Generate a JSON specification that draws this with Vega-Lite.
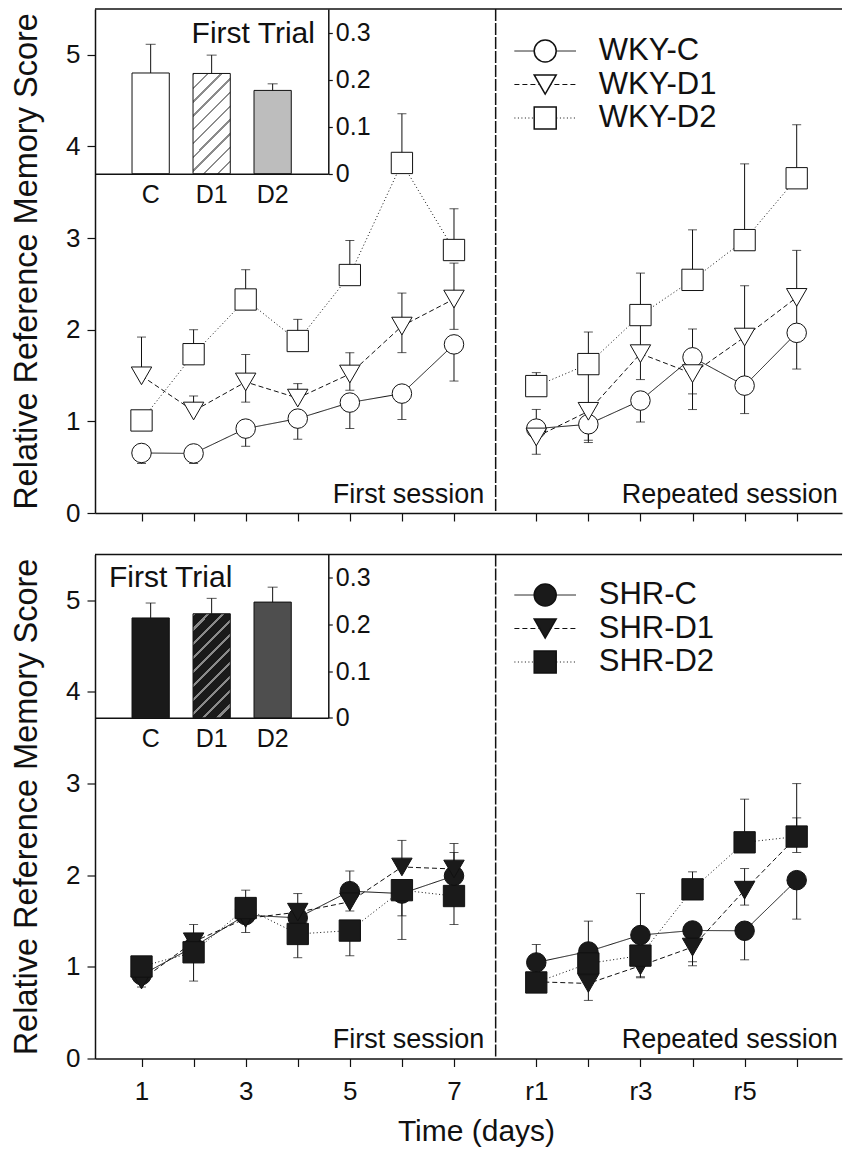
{
  "$schema": "https://vega.github.io/schema/vega-lite/v6.json",
  "background": "white",
  "padding": {"left": 10, "top": 8, "right": 0, "bottom": 0},
  "spacing": 27.5,
  "resolve": {"scale": {"shape": "independent", "size": "independent", "strokeDash": "independent"}, "legend": {"shape": "independent", "size": "independent", "strokeDash": "independent"}},
  "config": {
    "font": "Liberation Sans",
    "view": {"stroke": null},
    "axis": {"grid": false, "domainColor": "#111", "tickColor": "#111", "labelColor": "#111", "titleColor": "#111", "titleFontWeight": "normal", "labelFont": "Liberation Sans", "titleFont": "Liberation Sans", "domainWidth": 1.5, "tickWidth": 1.2},
    "legend": {"labelFont": "Liberation Sans"}
  },
  "datasets": {
    "wky": [
      {"s": "WKY-C", "sess": "a", "t": 1, "v": 0.655, "lo": 0.54, "hi": 0.655},
      {"s": "WKY-C", "sess": "a", "t": 2, "v": 0.65, "lo": 0.54, "hi": 0.65},
      {"s": "WKY-C", "sess": "a", "t": 3, "v": 0.921, "lo": 0.728, "hi": 0.921},
      {"s": "WKY-C", "sess": "a", "t": 4, "v": 1.03, "lo": 0.805, "hi": 1.03},
      {"s": "WKY-C", "sess": "a", "t": 5, "v": 1.205, "lo": 0.921, "hi": 1.205},
      {"s": "WKY-C", "sess": "a", "t": 6, "v": 1.303, "lo": 1.02, "hi": 1.303},
      {"s": "WKY-C", "sess": "a", "t": 7, "v": 1.84, "lo": 1.44, "hi": 1.84},
      {"s": "WKY-C", "sess": "b", "t": 8.58, "v": 0.921, "lo": 0.921, "hi": 1.13},
      {"s": "WKY-C", "sess": "b", "t": 9.58, "v": 0.968, "lo": 0.794, "hi": 0.968},
      {"s": "WKY-C", "sess": "b", "t": 10.58, "v": 1.227, "lo": 0.993, "hi": 1.227},
      {"s": "WKY-C", "sess": "b", "t": 11.58, "v": 1.699, "lo": 1.3, "hi": 2.008},
      {"s": "WKY-C", "sess": "b", "t": 12.58, "v": 1.39, "lo": 1.085, "hi": 1.39},
      {"s": "WKY-C", "sess": "b", "t": 13.58, "v": 1.966, "lo": 1.571, "hi": 1.966},
      {"s": "WKY-D1", "sess": "a", "t": 1, "v": 1.497, "lo": 1.497, "hi": 1.92},
      {"s": "WKY-D1", "sess": "a", "t": 2, "v": 1.113, "lo": 1.113, "hi": 1.277},
      {"s": "WKY-D1", "sess": "a", "t": 3, "v": 1.43, "lo": 1.21, "hi": 1.73},
      {"s": "WKY-D1", "sess": "a", "t": 4, "v": 1.254, "lo": 1.254, "hi": 1.412},
      {"s": "WKY-D1", "sess": "a", "t": 5, "v": 1.517, "lo": 1.34, "hi": 1.75},
      {"s": "WKY-D1", "sess": "a", "t": 6, "v": 2.04, "lo": 1.75, "hi": 2.4},
      {"s": "WKY-D1", "sess": "a", "t": 7, "v": 2.335, "lo": 2.004, "hi": 2.727},
      {"s": "WKY-D1", "sess": "b", "t": 8.58, "v": 0.83, "lo": 0.641, "hi": 0.83},
      {"s": "WKY-D1", "sess": "b", "t": 9.58, "v": 1.11, "lo": 0.769, "hi": 1.55},
      {"s": "WKY-D1", "sess": "b", "t": 10.58, "v": 1.739, "lo": 1.456, "hi": 2.1},
      {"s": "WKY-D1", "sess": "b", "t": 11.58, "v": 1.521, "lo": 1.129, "hi": 1.521},
      {"s": "WKY-D1", "sess": "b", "t": 12.58, "v": 1.92, "lo": 1.36, "hi": 2.48},
      {"s": "WKY-D1", "sess": "b", "t": 13.58, "v": 2.353, "lo": 2.0, "hi": 2.866},
      {"s": "WKY-D2", "sess": "a", "t": 1, "v": 1.01, "lo": 1.01, "hi": 1.01},
      {"s": "WKY-D2", "sess": "a", "t": 2, "v": 1.733, "lo": 1.733, "hi": 2.0},
      {"s": "WKY-D2", "sess": "a", "t": 3, "v": 2.33, "lo": 2.33, "hi": 2.655},
      {"s": "WKY-D2", "sess": "a", "t": 4, "v": 1.877, "lo": 1.877, "hi": 2.113},
      {"s": "WKY-D2", "sess": "a", "t": 5, "v": 2.597, "lo": 2.597, "hi": 2.975},
      {"s": "WKY-D2", "sess": "a", "t": 6, "v": 3.82, "lo": 3.82, "hi": 4.357},
      {"s": "WKY-D2", "sess": "a", "t": 7, "v": 2.87, "lo": 2.87, "hi": 3.32},
      {"s": "WKY-D2", "sess": "b", "t": 8.58, "v": 1.385, "lo": 1.385, "hi": 1.532},
      {"s": "WKY-D2", "sess": "b", "t": 9.58, "v": 1.625, "lo": 1.625, "hi": 1.975},
      {"s": "WKY-D2", "sess": "b", "t": 10.58, "v": 2.16, "lo": 2.16, "hi": 2.618},
      {"s": "WKY-D2", "sess": "b", "t": 11.58, "v": 2.544, "lo": 2.544, "hi": 3.09},
      {"s": "WKY-D2", "sess": "b", "t": 12.58, "v": 2.978, "lo": 2.978, "hi": 3.81},
      {"s": "WKY-D2", "sess": "b", "t": 13.58, "v": 3.653, "lo": 3.653, "hi": 4.237}
    ],
    "shr": [
      {"s": "SHR-C", "sess": "a", "t": 1, "v": 0.91, "lo": 0.91, "hi": 0.91},
      {"s": "SHR-C", "sess": "a", "t": 2, "v": 1.219, "lo": 1.219, "hi": 1.219},
      {"s": "SHR-C", "sess": "a", "t": 3, "v": 1.565, "lo": 1.375, "hi": 1.565},
      {"s": "SHR-C", "sess": "a", "t": 4, "v": 1.535, "lo": 1.535, "hi": 1.535},
      {"s": "SHR-C", "sess": "a", "t": 5, "v": 1.826, "lo": 1.826, "hi": 2.045},
      {"s": "SHR-C", "sess": "a", "t": 6, "v": 1.8, "lo": 1.557, "hi": 1.8},
      {"s": "SHR-C", "sess": "a", "t": 7, "v": 1.993, "lo": 1.993, "hi": 2.248},
      {"s": "SHR-C", "sess": "b", "t": 8.58, "v": 1.048, "lo": 1.048, "hi": 1.244},
      {"s": "SHR-C", "sess": "b", "t": 9.58, "v": 1.168, "lo": 1.168, "hi": 1.499},
      {"s": "SHR-C", "sess": "b", "t": 10.58, "v": 1.347, "lo": 1.347, "hi": 1.8},
      {"s": "SHR-C", "sess": "b", "t": 11.58, "v": 1.397, "lo": 1.056, "hi": 1.397},
      {"s": "SHR-C", "sess": "b", "t": 12.58, "v": 1.394, "lo": 1.077, "hi": 1.394},
      {"s": "SHR-C", "sess": "b", "t": 13.58, "v": 1.946, "lo": 1.521, "hi": 1.946},
      {"s": "SHR-D1", "sess": "a", "t": 1, "v": 0.856, "lo": 0.78, "hi": 0.856},
      {"s": "SHR-D1", "sess": "a", "t": 2, "v": 1.274, "lo": 1.274, "hi": 1.462},
      {"s": "SHR-D1", "sess": "a", "t": 3, "v": 1.528, "lo": 1.528, "hi": 1.528},
      {"s": "SHR-D1", "sess": "a", "t": 4, "v": 1.597, "lo": 1.597, "hi": 1.8},
      {"s": "SHR-D1", "sess": "a", "t": 5, "v": 1.71, "lo": 1.61, "hi": 1.71},
      {"s": "SHR-D1", "sess": "a", "t": 6, "v": 2.09, "lo": 2.09, "hi": 2.38},
      {"s": "SHR-D1", "sess": "a", "t": 7, "v": 2.068, "lo": 2.068, "hi": 2.346},
      {"s": "SHR-D1", "sess": "b", "t": 8.58, "v": 0.837, "lo": 0.837, "hi": 0.837},
      {"s": "SHR-D1", "sess": "b", "t": 9.58, "v": 0.819, "lo": 0.634, "hi": 0.819},
      {"s": "SHR-D1", "sess": "b", "t": 10.58, "v": 1.012, "lo": 0.881, "hi": 1.012},
      {"s": "SHR-D1", "sess": "b", "t": 11.58, "v": 1.216, "lo": 1.012, "hi": 1.216},
      {"s": "SHR-D1", "sess": "b", "t": 12.58, "v": 1.837, "lo": 1.674, "hi": 2.073},
      {"s": "SHR-D1", "sess": "b", "t": 13.58, "v": 2.419, "lo": 2.248, "hi": 2.626},
      {"s": "SHR-D2", "sess": "a", "t": 1, "v": 1.004, "lo": 1.004, "hi": 1.11},
      {"s": "SHR-D2", "sess": "a", "t": 2, "v": 1.159, "lo": 0.845, "hi": 1.159},
      {"s": "SHR-D2", "sess": "a", "t": 3, "v": 1.642, "lo": 1.642, "hi": 1.837},
      {"s": "SHR-D2", "sess": "a", "t": 4, "v": 1.359, "lo": 1.1, "hi": 1.359},
      {"s": "SHR-D2", "sess": "a", "t": 5, "v": 1.396, "lo": 1.121, "hi": 1.396},
      {"s": "SHR-D2", "sess": "a", "t": 6, "v": 1.837, "lo": 1.299, "hi": 1.837},
      {"s": "SHR-D2", "sess": "a", "t": 7, "v": 1.773, "lo": 1.462, "hi": 1.773},
      {"s": "SHR-D2", "sess": "b", "t": 8.58, "v": 0.83, "lo": 0.83, "hi": 0.83},
      {"s": "SHR-D2", "sess": "b", "t": 9.58, "v": 1.037, "lo": 1.037, "hi": 1.037},
      {"s": "SHR-D2", "sess": "b", "t": 10.58, "v": 1.123, "lo": 0.892, "hi": 1.123},
      {"s": "SHR-D2", "sess": "b", "t": 11.58, "v": 1.846, "lo": 1.846, "hi": 2.037},
      {"s": "SHR-D2", "sess": "b", "t": 12.58, "v": 2.359, "lo": 2.359, "hi": 2.83},
      {"s": "SHR-D2", "sess": "b", "t": 13.58, "v": 2.422, "lo": 2.422, "hi": 3.0}
    ],
    "wkyBars": [
      {"g": "C", "v": 0.214, "hi": 0.275},
      {"g": "D1", "v": 0.213, "hi": 0.252},
      {"g": "D2", "v": 0.177, "hi": 0.191}
    ],
    "shrBars": [
      {"g": "C", "v": 0.214, "hi": 0.246},
      {"g": "D1", "v": 0.223, "hi": 0.256},
      {"g": "D2", "v": 0.248, "hi": 0.28}
    ]
  },
  "vconcat": [
    {
      "width": 747,
      "height": 504,
      "resolve": {"scale": {"x": "independent", "y": "independent"}, "axis": {"x": "independent", "y": "independent"}},
      "layer": [
        {
          "layer": [
            {
              "data": {"name": "wky"},
              "mark": {"type": "line", "color": "#111", "strokeWidth": 1},
              "encoding": {
                "x": {"field": "t", "type": "quantitative", "scale": {"domain": [0.107, 14.45], "nice": false, "zero": false},
                  "axis": {"values": [1, 2, 3, 4, 5, 6, 7, 8.58, 9.58, 10.58, 11.58, 12.58, 13.58], "tickSize": 8, "labels": false, "title": null}},
                "y": {"field": "v", "type": "quantitative", "scale": {"domain": [0, 5.5], "nice": false},
                  "axis": {"values": [0, 1, 2, 3, 4, 5], "format": "d", "tickSize": 8, "labelPadding": 7, "labelFontSize": 26, "title": "Relative Reference Memory Score", "titleFontSize": 32.5, "titlePadding": 22}},
                "strokeDash": {"field": "s", "type": "nominal", "scale": {"range": [[1, 0], [5, 3], [1, 2.5]]},
                  "legend": {"orient": "none", "legendX": 434.7, "legendY": 26.5, "title": null, "symbolType": "M-2.8,0L2.8,0", "symbolSize": 484, "symbolStrokeWidth": 1, "symbolStrokeColor": "#111", "symbolFillColor": "transparent", "labelFontSize": 31, "labelOpacity": 0, "labelOffset": 38, "rowPadding": 1.5, "padding": 0}},
                "detail": {"field": "sess"}
              }
            },
            {
              "data": {"name": "wky"},
              "mark": {"type": "rule", "color": "#111", "strokeWidth": 1},
              "encoding": {
                "x": {"field": "t", "type": "quantitative"},
                "y": {"field": "lo", "type": "quantitative"},
                "y2": {"field": "hi"}
              }
            },
            {
              "data": {"name": "wky"},
              "transform": [{"filter": "datum.hi > datum.v"}],
              "mark": {"type": "tick", "orient": "horizontal", "size": 9, "thickness": 1, "color": "#111"},
              "encoding": {
                "x": {"field": "t", "type": "quantitative"},
                "y": {"field": "hi", "type": "quantitative"}
              }
            },
            {
              "data": {"name": "wky"},
              "transform": [{"filter": "datum.lo < datum.v"}],
              "mark": {"type": "tick", "orient": "horizontal", "size": 9, "thickness": 1, "color": "#111"},
              "encoding": {
                "x": {"field": "t", "type": "quantitative"},
                "y": {"field": "lo", "type": "quantitative"}
              }
            },
            {
              "data": {"name": "wky"},
              "mark": {"type": "point", "filled": true, "fill": "white", "stroke": "#111", "strokeWidth": 1, "opacity": 1, "fillOpacity": 1},
              "encoding": {
                "x": {"field": "t", "type": "quantitative"},
                "y": {"field": "v", "type": "quantitative"},
                "size": {"field": "s", "type": "nominal", "scale": {"range": [380, 454, 340]}, "legend": null},
                "shape": {"field": "s", "type": "nominal", "scale": {"domain": ["WKY-C", "WKY-D1", "WKY-D2"], "range": ["circle", "triangle-down", "square"]},
                  "legend": {"orient": "none", "legendX": 434.7, "legendY": 26.5, "title": null, "symbolSize": 484, "labelFontSize": 31, "labelColor": "#111", "labelOffset": 38, "rowPadding": 1.5, "padding": 0,
                    "encode": {"symbols": {"fill": {"value": "white"}, "stroke": {"value": "#111"}, "strokeWidth": {"value": 1}, "opacity": {"value": 1}, "fillOpacity": {"value": 1}, "strokeOpacity": {"value": 1}}}
                  }}
              }
            },
            {
              "data": {"values": [{}]},
              "mark": {"type": "rule", "color": "#111", "strokeWidth": 1.5, "strokeDash": [12, 2]},
              "encoding": {"x": {"datum": 7.8, "type": "quantitative"}}
            },
            {
              "data": {"values": [{}]},
              "mark": {"type": "rule", "color": "#111", "strokeWidth": 1.5},
              "encoding": {"y": {"datum": 5.5, "type": "quantitative"}}
            },
            {
              "data": {"values": [{}]},
              "mark": {"type": "text", "text": "First session", "align": "right", "baseline": "alphabetic", "fontSize": 27, "color": "#111"},
              "encoding": {"x": {"datum": 7.58, "type": "quantitative"}, "y": {"datum": 0.11, "type": "quantitative"}}
            },
            {
              "data": {"values": [{}]},
              "mark": {"type": "text", "text": "Repeated session", "align": "right", "baseline": "alphabetic", "fontSize": 27, "color": "#111"},
              "encoding": {"x": {"datum": 14.37, "type": "quantitative"}, "y": {"datum": 0.11, "type": "quantitative"}}
            },
            {
              "data": {"values": [{}]},
              "mark": {"type": "text", "text": "First Trial", "align": "right", "baseline": "alphabetic", "fontSize": 30, "color": "#111"},
              "encoding": {"x": {"datum": 4.33, "type": "quantitative"}, "y": {"datum": 5.134, "type": "quantitative"}}
            }
          ]
        },
        {
          "data": {"name": "wkyBars"},
          "encoding": {
            "x": {"field": "g", "type": "nominal", "scale": {"domain": ["C", "D1", "D2"], "range": [0, 233.3], "paddingInner": 0.389, "paddingOuter": 0.607},
              "axis": {"orient": "bottom", "offset": -339.3, "title": null, "ticks": false, "tickSize": 0, "labelPadding": 9, "labelFontSize": 25, "labelAngle": 0}},
            "y": {"field": "v", "type": "quantitative", "scale": {"domain": [0, 0.35], "range": [164.7, 0], "nice": false},
              "axis": {"orient": "right", "offset": -513.7, "title": null, "values": [0, 0.1, 0.2, 0.3], "tickSize": 4, "labelPadding": 3, "labelFontSize": 25, "labelExpr": "datum.value == 0 ? '0' : format(datum.value, '.1f')"}}
          },
          "layer": [
            {
              "transform": [{"filter": "datum.g == 'C'"}],
              "mark": {"type": "bar", "fill": "white", "stroke": "#111", "strokeWidth": 1}
            },
            {
              "transform": [{"filter": "datum.g == 'D1'"}],
              "mark": {"type": "bar", "stroke": "#111", "strokeWidth": 1,
                "fill": {"gradient": "linear", "x1": 0, "y1": 0, "x2": 0.449, "y2": 1.205, "stops": [
                  {"offset": 0, "color": "#8c8c8c"}, {"offset": 0.018, "color": "#8c8c8c"}, {"offset": 0.018, "color": "#ffffff"}, {"offset": 0.1, "color": "#ffffff"},
                  {"offset": 0.1, "color": "#8c8c8c"}, {"offset": 0.118, "color": "#8c8c8c"}, {"offset": 0.118, "color": "#ffffff"}, {"offset": 0.2, "color": "#ffffff"},
                  {"offset": 0.2, "color": "#8c8c8c"}, {"offset": 0.218, "color": "#8c8c8c"}, {"offset": 0.218, "color": "#ffffff"}, {"offset": 0.3, "color": "#ffffff"},
                  {"offset": 0.3, "color": "#8c8c8c"}, {"offset": 0.318, "color": "#8c8c8c"}, {"offset": 0.318, "color": "#ffffff"}, {"offset": 0.4, "color": "#ffffff"},
                  {"offset": 0.4, "color": "#8c8c8c"}, {"offset": 0.418, "color": "#8c8c8c"}, {"offset": 0.418, "color": "#ffffff"}, {"offset": 0.5, "color": "#ffffff"},
                  {"offset": 0.5, "color": "#8c8c8c"}, {"offset": 0.518, "color": "#8c8c8c"}, {"offset": 0.518, "color": "#ffffff"}, {"offset": 0.6, "color": "#ffffff"},
                  {"offset": 0.6, "color": "#8c8c8c"}, {"offset": 0.618, "color": "#8c8c8c"}, {"offset": 0.618, "color": "#ffffff"}, {"offset": 0.7, "color": "#ffffff"},
                  {"offset": 0.7, "color": "#8c8c8c"}, {"offset": 0.718, "color": "#8c8c8c"}, {"offset": 0.718, "color": "#ffffff"}, {"offset": 0.8, "color": "#ffffff"},
                  {"offset": 0.8, "color": "#8c8c8c"}, {"offset": 0.818, "color": "#8c8c8c"}, {"offset": 0.818, "color": "#ffffff"}, {"offset": 0.9, "color": "#ffffff"},
                  {"offset": 0.9, "color": "#8c8c8c"}, {"offset": 0.918, "color": "#8c8c8c"}, {"offset": 0.918, "color": "#ffffff"}, {"offset": 1, "color": "#ffffff"}
                ]}}
            },
            {
              "transform": [{"filter": "datum.g == 'D2'"}],
              "mark": {"type": "bar", "fill": "#bdbdbd", "stroke": "#111", "strokeWidth": 1}
            },
            {
              "mark": {"type": "rule", "color": "#111", "strokeWidth": 1},
              "encoding": {"y2": {"field": "hi"}}
            },
            {
              "mark": {"type": "tick", "orient": "horizontal", "size": 10, "thickness": 1, "color": "#111"},
              "encoding": {"y": {"field": "hi", "type": "quantitative"}}
            }
          ]
        }
      ]
    },
    {
      "width": 747,
      "height": 504,
      "resolve": {"scale": {"x": "independent", "y": "independent"}, "axis": {"x": "independent", "y": "independent"}},
      "layer": [
        {
          "layer": [
            {
              "data": {"name": "shr"},
              "mark": {"type": "line", "color": "#111", "strokeWidth": 1},
              "encoding": {
                "x": {"field": "t", "type": "quantitative", "scale": {"domain": [0.107, 14.45], "nice": false, "zero": false},
                  "axis": {"values": [1, 2, 3, 4, 5, 6, 7, 8.58, 9.58, 10.58, 11.58, 12.58, 13.58], "tickSize": 8, "labelPadding": 12, "labelFontSize": 26,
                    "labelExpr": "datum.value < 7.5 ? (datum.value % 2 == 1 ? format(datum.value, 'd') : '') : (round(datum.value - 7.58) % 2 == 1 ? 'r' + round(datum.value - 7.58) : '')",
                    "title": "Time (days)", "titleFontSize": 30, "titlePadding": 12, "titleX": 381}},
                "y": {"field": "v", "type": "quantitative", "scale": {"domain": [0, 5.5], "nice": false},
                  "axis": {"values": [0, 1, 2, 3, 4, 5], "format": "d", "tickSize": 8, "labelPadding": 7, "labelFontSize": 26, "title": "Relative Reference Memory Score", "titleFontSize": 32.5, "titlePadding": 22}},
                "strokeDash": {"field": "s", "type": "nominal", "scale": {"range": [[1, 0], [5, 3], [1, 2.5]]},
                  "legend": {"orient": "none", "legendX": 434.7, "legendY": 25, "title": null, "symbolType": "M-2.8,0L2.8,0", "symbolSize": 484, "symbolStrokeWidth": 1, "symbolStrokeColor": "#111", "symbolFillColor": "transparent", "labelFontSize": 31, "labelOpacity": 0, "labelOffset": 38, "rowPadding": 1.5, "padding": 0}},
                "detail": {"field": "sess"}
              }
            },
            {
              "data": {"name": "shr"},
              "mark": {"type": "rule", "color": "#111", "strokeWidth": 1},
              "encoding": {
                "x": {"field": "t", "type": "quantitative"},
                "y": {"field": "lo", "type": "quantitative"},
                "y2": {"field": "hi"}
              }
            },
            {
              "data": {"name": "shr"},
              "transform": [{"filter": "datum.hi > datum.v"}],
              "mark": {"type": "tick", "orient": "horizontal", "size": 9, "thickness": 1, "color": "#111"},
              "encoding": {
                "x": {"field": "t", "type": "quantitative"},
                "y": {"field": "hi", "type": "quantitative"}
              }
            },
            {
              "data": {"name": "shr"},
              "transform": [{"filter": "datum.lo < datum.v"}],
              "mark": {"type": "tick", "orient": "horizontal", "size": 9, "thickness": 1, "color": "#111"},
              "encoding": {
                "x": {"field": "t", "type": "quantitative"},
                "y": {"field": "lo", "type": "quantitative"}
              }
            },
            {
              "data": {"name": "shr"},
              "mark": {"type": "point", "filled": true, "fill": "#1a1a1a", "stroke": "#111", "strokeWidth": 1, "opacity": 1, "fillOpacity": 1},
              "encoding": {
                "x": {"field": "t", "type": "quantitative"},
                "y": {"field": "v", "type": "quantitative"},
                "size": {"field": "s", "type": "nominal", "scale": {"range": [380, 454, 340]}, "legend": null},
                "shape": {"field": "s", "type": "nominal", "scale": {"domain": ["SHR-C", "SHR-D1", "SHR-D2"], "range": ["circle", "triangle-down", "square"]},
                  "legend": {"orient": "none", "legendX": 434.7, "legendY": 25, "title": null, "symbolSize": 484, "labelFontSize": 31, "labelColor": "#111", "labelOffset": 38, "rowPadding": 1.5, "padding": 0,
                    "encode": {"symbols": {"fill": {"value": "#1a1a1a"}, "stroke": {"value": "#111"}, "strokeWidth": {"value": 1}, "opacity": {"value": 1}, "fillOpacity": {"value": 1}, "strokeOpacity": {"value": 1}}}
                  }}
              }
            },
            {
              "data": {"values": [{}]},
              "mark": {"type": "rule", "color": "#111", "strokeWidth": 1.5, "strokeDash": [12, 2]},
              "encoding": {"x": {"datum": 7.8, "type": "quantitative"}}
            },
            {
              "data": {"values": [{}]},
              "mark": {"type": "rule", "color": "#111", "strokeWidth": 1.5},
              "encoding": {"y": {"datum": 5.5, "type": "quantitative"}}
            },
            {
              "data": {"values": [{}]},
              "mark": {"type": "text", "text": "First session", "align": "right", "baseline": "alphabetic", "fontSize": 27, "color": "#111"},
              "encoding": {"x": {"datum": 7.58, "type": "quantitative"}, "y": {"datum": 0.11, "type": "quantitative"}}
            },
            {
              "data": {"values": [{}]},
              "mark": {"type": "text", "text": "Repeated session", "align": "right", "baseline": "alphabetic", "fontSize": 27, "color": "#111"},
              "encoding": {"x": {"datum": 14.37, "type": "quantitative"}, "y": {"datum": 0.11, "type": "quantitative"}}
            },
            {
              "data": {"values": [{}]},
              "mark": {"type": "text", "text": "First Trial", "align": "left", "baseline": "alphabetic", "fontSize": 30, "color": "#111"},
              "encoding": {"x": {"datum": 0.376, "type": "quantitative"}, "y": {"datum": 5.145, "type": "quantitative"}}
            }
          ]
        },
        {
          "data": {"name": "shrBars"},
          "encoding": {
            "x": {"field": "g", "type": "nominal", "scale": {"domain": ["C", "D1", "D2"], "range": [0, 233.3], "paddingInner": 0.389, "paddingOuter": 0.607},
              "axis": {"orient": "bottom", "offset": -340.7, "title": null, "ticks": false, "tickSize": 0, "labelPadding": 9, "labelFontSize": 25, "labelAngle": 0}},
            "y": {"field": "v", "type": "quantitative", "scale": {"domain": [0, 0.35], "range": [163.3, 0], "nice": false},
              "axis": {"orient": "right", "offset": -513.7, "title": null, "values": [0, 0.1, 0.2, 0.3], "tickSize": 4, "labelPadding": 3, "labelFontSize": 25, "labelExpr": "datum.value == 0 ? '0' : format(datum.value, '.1f')"}}
          },
          "layer": [
            {
              "transform": [{"filter": "datum.g == 'C'"}],
              "mark": {"type": "bar", "fill": "#1a1a1a", "stroke": "#111", "strokeWidth": 1}
            },
            {
              "transform": [{"filter": "datum.g == 'D1'"}],
              "mark": {"type": "bar", "stroke": "#111", "strokeWidth": 1,
                "fill": {"gradient": "linear", "x1": 0, "y1": 0, "x2": 0.432, "y2": 1.204, "stops": [
                  {"offset": 0, "color": "#8a8a8a"}, {"offset": 0.022, "color": "#8a8a8a"}, {"offset": 0.022, "color": "#1a1a1a"}, {"offset": 0.1, "color": "#1a1a1a"},
                  {"offset": 0.1, "color": "#8a8a8a"}, {"offset": 0.122, "color": "#8a8a8a"}, {"offset": 0.122, "color": "#1a1a1a"}, {"offset": 0.2, "color": "#1a1a1a"},
                  {"offset": 0.2, "color": "#8a8a8a"}, {"offset": 0.222, "color": "#8a8a8a"}, {"offset": 0.222, "color": "#1a1a1a"}, {"offset": 0.3, "color": "#1a1a1a"},
                  {"offset": 0.3, "color": "#8a8a8a"}, {"offset": 0.322, "color": "#8a8a8a"}, {"offset": 0.322, "color": "#1a1a1a"}, {"offset": 0.4, "color": "#1a1a1a"},
                  {"offset": 0.4, "color": "#8a8a8a"}, {"offset": 0.422, "color": "#8a8a8a"}, {"offset": 0.422, "color": "#1a1a1a"}, {"offset": 0.5, "color": "#1a1a1a"},
                  {"offset": 0.5, "color": "#8a8a8a"}, {"offset": 0.522, "color": "#8a8a8a"}, {"offset": 0.522, "color": "#1a1a1a"}, {"offset": 0.6, "color": "#1a1a1a"},
                  {"offset": 0.6, "color": "#8a8a8a"}, {"offset": 0.622, "color": "#8a8a8a"}, {"offset": 0.622, "color": "#1a1a1a"}, {"offset": 0.7, "color": "#1a1a1a"},
                  {"offset": 0.7, "color": "#8a8a8a"}, {"offset": 0.722, "color": "#8a8a8a"}, {"offset": 0.722, "color": "#1a1a1a"}, {"offset": 0.8, "color": "#1a1a1a"},
                  {"offset": 0.8, "color": "#8a8a8a"}, {"offset": 0.822, "color": "#8a8a8a"}, {"offset": 0.822, "color": "#1a1a1a"}, {"offset": 0.9, "color": "#1a1a1a"},
                  {"offset": 0.9, "color": "#8a8a8a"}, {"offset": 0.922, "color": "#8a8a8a"}, {"offset": 0.922, "color": "#1a1a1a"}, {"offset": 1, "color": "#1a1a1a"}
                ]}}
            },
            {
              "transform": [{"filter": "datum.g == 'D2'"}],
              "mark": {"type": "bar", "fill": "#4e4e4e", "stroke": "#111", "strokeWidth": 1}
            },
            {
              "mark": {"type": "rule", "color": "#111", "strokeWidth": 1},
              "encoding": {"y2": {"field": "hi"}}
            },
            {
              "mark": {"type": "tick", "orient": "horizontal", "size": 10, "thickness": 1, "color": "#111"},
              "encoding": {"y": {"field": "hi", "type": "quantitative"}}
            }
          ]
        }
      ]
    }
  ]
}
